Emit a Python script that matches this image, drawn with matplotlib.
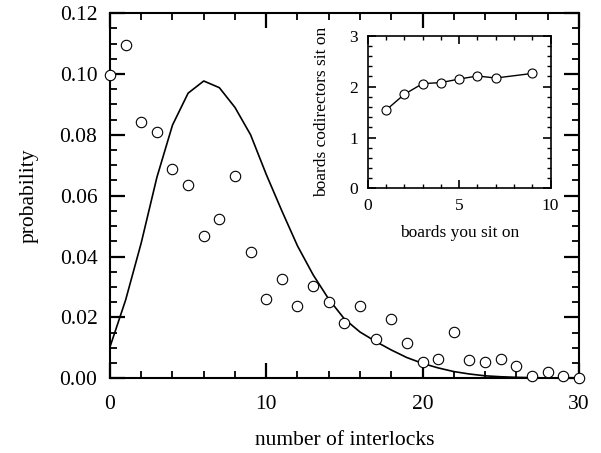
import matplotlib
matplotlib.use('Agg')
import matplotlib.pyplot as plt
from matplotlib.ticker import MultipleLocator

plt.rcParams['font.family'] = ['Liberation Serif', 'DejaVu Serif']

# main panel: observed distribution (circles) and model prediction (line)
interlocks = list(range(31))
observed = [0.0998, 0.1096, 0.0843, 0.0810, 0.0689, 0.0634, 0.0469, 0.0524,
            0.0666, 0.0414, 0.0260, 0.0325, 0.0238, 0.0303, 0.0249, 0.0183,
            0.0238, 0.0128, 0.0194, 0.0116, 0.0052, 0.0064, 0.0151, 0.0061,
            0.0052, 0.0062, 0.0041, 0.0008, 0.0021, 0.0008, 0.0000]
predicted = [0.0103, 0.0257, 0.0445, 0.0660, 0.0832, 0.0937, 0.0977, 0.0955,
             0.0890, 0.0800, 0.0670, 0.0550, 0.0435, 0.0340, 0.0260, 0.0195,
             0.0152, 0.0121, 0.0093, 0.0068, 0.0049, 0.0034, 0.0022, 0.0014,
             0.0008, 0.0005, 0.0003, 0.0002, 0.0001, 0.0001, 0.0000]

# inset: boards codirectors sit on vs boards you sit on
boards = [1, 2, 3, 4, 5, 6, 7, 9]
codir_boards = [1.54, 1.85, 2.06, 2.08, 2.15, 2.21, 2.17, 2.26]

fig = plt.figure(figsize=(6.01, 4.53), dpi=100)
ax = fig.add_axes([0.183, 0.165, 0.780, 0.806])

ax.plot(interlocks, predicted, '-k', lw=1.2)
ax.plot(interlocks, observed, 'o', mfc='white', mec='black', ms=7.5, mew=0.8,
        clip_on=False, zorder=3)

ax.set_xlim(0, 30)
ax.set_ylim(0, 0.12)
ax.xaxis.set_major_locator(MultipleLocator(10))
ax.xaxis.set_minor_locator(MultipleLocator(2))
ax.yaxis.set_major_locator(MultipleLocator(0.02))
ax.yaxis.set_minor_locator(MultipleLocator(0.005))
ax.yaxis.set_major_formatter(matplotlib.ticker.FormatStrFormatter('%.2f'))
ax.tick_params(which='both', direction='in', top=True, right=True, labelsize=15.5)
ax.tick_params(which='major', length=11, width=1.6)
ax.tick_params(which='minor', length=5, width=1.3)
ax.tick_params(axis='x', which='major', pad=12)
ax.tick_params(axis='y', which='major', pad=9)
for s in ax.spines.values():
    s.set_linewidth(1.5)
ax.set_xlabel('number of interlocks', fontsize=15.5, labelpad=12)
ax.set_ylabel('probability', fontsize=15.5, labelpad=15)

ins = fig.add_axes([0.612, 0.584, 0.304, 0.337])
ins.plot(boards, codir_boards, '-ok', lw=1.0, mfc='white', mec='black', ms=6.5, mew=0.8)
ins.set_xlim(0, 10)
ins.set_ylim(0, 3)
ins.xaxis.set_major_locator(MultipleLocator(5))
ins.xaxis.set_minor_locator(MultipleLocator(1))
ins.yaxis.set_major_locator(MultipleLocator(1))
ins.yaxis.set_minor_locator(MultipleLocator(0.2))
ins.tick_params(which='both', direction='in', top=True, right=True, labelsize=12.5)
ins.tick_params(which='major', length=6, width=1.2)
ins.tick_params(which='minor', length=3, width=1.0)
ins.tick_params(axis='x', which='major', pad=7)
ins.tick_params(axis='y', which='major', pad=7)
for s in ins.spines.values():
    s.set_linewidth(1.2)
ins.set_xlabel('boards you sit on', fontsize=12.5, labelpad=8)
ins.set_ylabel('boards codirectors sit on', fontsize=12.5, labelpad=14)

fig.savefig('out.png', dpi=100)
